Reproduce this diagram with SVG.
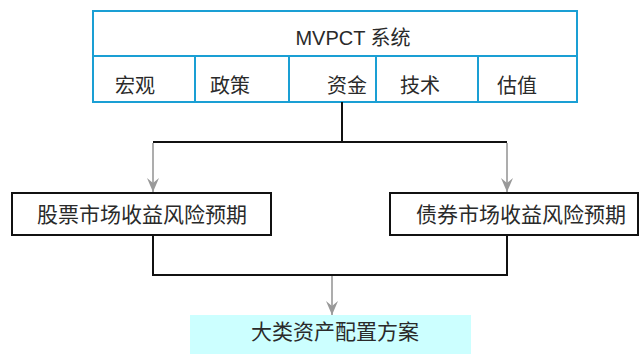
<svg xmlns="http://www.w3.org/2000/svg" width="640" height="354" viewBox="0 0 640 354">
<style>
.t{font-family:"Liberation Sans","Noto Sans CJK SC",sans-serif;font-size:20px;fill:#2a2a2a;text-anchor:middle}
.big{font-size:21px}
.blue{fill:none;stroke:#1a9fd4;stroke-width:2}
.box{fill:#fff;stroke:#111;stroke-width:2}
.ln{fill:none;stroke:#111;stroke-width:2}
.ar{fill:none;stroke:#999;stroke-width:1.6}
</style>
<defs>
<marker id="ad" viewBox="0 0 12 18" refX="6" refY="18" markerWidth="12" markerHeight="18" markerUnits="userSpaceOnUse" orient="0">
<path d="M0,4 L6,18 L12,4 L6,9 z" fill="#999"/>
</marker>
</defs>
<g id="mvpct">
<rect class="blue" x="93" y="11" width="484" height="91"/>
<line class="blue" x1="93" y1="56" x2="577" y2="56"/>
<line class="blue" x1="195" y1="56" x2="195" y2="102"/>
<line class="blue" x1="289" y1="56" x2="289" y2="102"/>
<line class="blue" x1="376" y1="56" x2="376" y2="102"/>
<line class="blue" x1="478" y1="56" x2="478" y2="102"/>
<text class="t" x="353" y="45">MVPCT 系统</text>
<text class="t" x="135" y="93">宏观</text>
<text class="t" x="230" y="93">政策</text>
<text class="t" x="347" y="93">资金</text>
<text class="t" x="420" y="93">技术</text>
<text class="t" x="517" y="93">估值</text>
</g>
<g id="stock">
<rect class="box" x="12" y="193" width="259" height="42"/>
<text class="t big" x="142" y="222">股票市场收益风险预期</text>
</g>
<g id="bond">
<rect class="box" x="390" y="193" width="248" height="42"/>
<text class="t big" x="521" y="222">债券市场收益风险预期</text>
</g>
<g id="alloc">
<rect x="190" y="315" width="281" height="39" fill="#ccffff"/>
<text class="t big" x="335" y="339">大类资产配置方案</text>
</g>
<g id="connectors">
<polyline class="ln" points="342,102 342,142"/>
<polyline class="ln" points="153,142 507,142"/>
<line class="ar" x1="153" y1="143" x2="153" y2="192" marker-end="url(#ad)"/>
<line class="ar" x1="507" y1="143" x2="507" y2="192" marker-end="url(#ad)"/>
<polyline class="ln" points="153,235 153,275 507,275 507,235"/>
<line class="ar" x1="332" y1="276" x2="332" y2="315" marker-end="url(#ad)"/>
</g>
</svg>
